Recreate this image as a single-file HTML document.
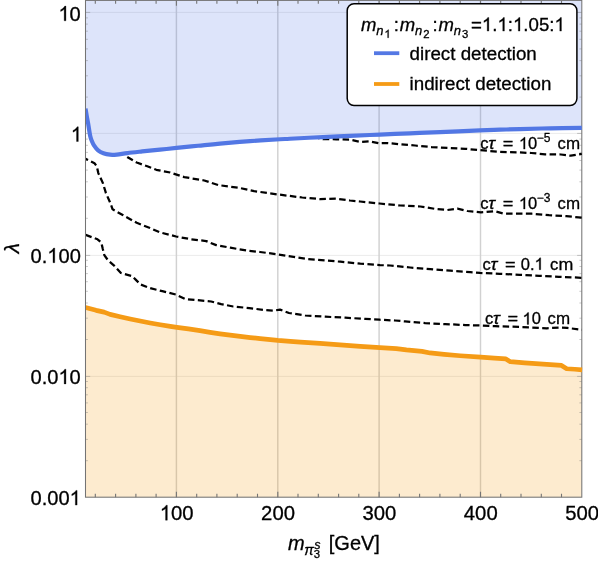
<!DOCTYPE html><html><head><meta charset="utf-8"><style>html,body{margin:0;padding:0;background:#fff;overflow:hidden}svg{display:block;will-change:transform}text{font-family:"Liberation Sans",sans-serif;fill:#000;stroke:#000;stroke-width:0.3px}</style></head><body>
<svg width="598" height="564" viewBox="0 0 598 564">
<rect width="598" height="564" fill="#fff"/>
<clipPath id="cp"><rect x="86.0" y="0" width="496.9" height="497.2"/></clipPath>
<line x1="85.5" x2="581.8" y1="12.4" y2="12.4" stroke="#ebebeb" stroke-width="1"/>
<line x1="85.5" x2="581.8" y1="133.4" y2="133.4" stroke="#ebebeb" stroke-width="1"/>
<line x1="85.5" x2="581.8" y1="255.4" y2="255.4" stroke="#ebebeb" stroke-width="1"/>
<line x1="85.5" x2="581.8" y1="376.4" y2="376.4" stroke="#ebebeb" stroke-width="1"/>
<line y1="0" y2="497.2" x1="176.4" x2="176.4" stroke="#d1d1d1" stroke-width="1.45"/>
<line y1="0" y2="497.2" x1="277.8" x2="277.8" stroke="#d1d1d1" stroke-width="1.45"/>
<line y1="0" y2="497.2" x1="379.1" x2="379.1" stroke="#d1d1d1" stroke-width="1.45"/>
<line y1="0" y2="497.2" x1="480.5" x2="480.5" stroke="#d1d1d1" stroke-width="1.45"/>
<path d="M85.50,108.70 C85.72,110.00 86.35,113.93 86.80,116.50 C87.25,119.07 87.63,120.83 88.20,124.10 C88.77,127.37 89.57,133.20 90.20,136.10 C90.83,139.00 91.37,139.93 92.00,141.50 C92.63,143.07 92.98,143.98 94.00,145.50 C95.02,147.02 96.53,149.27 98.10,150.60 C99.67,151.93 101.40,152.79 103.40,153.50 C105.40,154.21 107.87,154.65 110.10,154.85 C112.33,155.05 113.90,154.97 116.80,154.70 C119.70,154.42 123.27,153.72 127.50,153.20 C131.73,152.68 136.78,152.17 142.20,151.60 C147.62,151.03 154.28,150.38 160.00,149.80 C165.72,149.22 170.17,148.75 176.50,148.10 C182.83,147.45 190.75,146.63 198.00,145.90 C205.25,145.17 211.33,144.47 220.00,143.70 C228.67,142.93 240.00,142.02 250.00,141.30 C260.00,140.58 273.33,139.80 280.00,139.40 C286.67,139.00 282.83,139.27 290.00,138.90 C297.17,138.53 313.00,137.68 323.00,137.20 C333.00,136.72 340.50,136.42 350.00,136.00 C359.50,135.58 370.00,135.12 380.00,134.70 C390.00,134.28 400.00,133.92 410.00,133.50 C420.00,133.08 428.33,132.68 440.00,132.20 C451.67,131.72 470.00,130.99 480.00,130.60 C490.00,130.21 493.33,130.08 500.00,129.85 C506.67,129.62 511.67,129.42 520.00,129.20 C528.33,128.97 539.70,128.71 550.00,128.50 C560.30,128.29 576.50,128.04 581.80,127.95 L581.8,-5 L85.5,-5 Z" fill="#5478e4" fill-opacity="0.2"/>
<path d="M85.5,307.3 L96.1,310.1 L104.1,311.9 L110.1,314.1 L120.1,316.5 L130.2,318.7 L140.2,320.7 L150.2,322.7 L160.3,324.5 L170.3,326.1 L176.9,327.1 L188.4,328.7 L200.0,330.4 L210.1,332.1 L220.1,333.6 L230.1,334.9 L240.2,336.1 L250.2,337.3 L260.2,338.3 L270.3,339.3 L277.9,340.1 L290.3,341.1 L300.4,341.9 L320.1,343.1 L340.1,344.7 L360.2,346.1 L379.9,347.3 L396.3,348.3 L406.4,349.7 L422.0,351.1 L430.1,352.7 L444.1,354.1 L460.2,355.5 L480.6,356.9 L494.3,357.9 L505.9,358.7 L510.3,361.4 L524.7,362.6 L539.4,363.7 L554.1,364.6 L561.5,365.2 L566.7,368.5 L574.8,369.0 L582.1,369.6 L581.8,497.2 L85.5,497.2 Z" fill="#f59b16" fill-opacity="0.205"/>
<path d="M95.3,497.2 v-3.4 M95.3,0.4 v3.4 M115.6,497.2 v-3.4 M115.6,0.4 v3.4 M135.9,497.2 v-3.4 M135.9,0.4 v3.4 M156.1,497.2 v-3.4 M156.1,0.4 v3.4 M176.4,497.2 v-5.4 M176.4,0.4 v5.4 M196.7,497.2 v-3.4 M196.7,0.4 v3.4 M216.9,497.2 v-3.4 M216.9,0.4 v3.4 M237.2,497.2 v-3.4 M237.2,0.4 v3.4 M257.5,497.2 v-3.4 M257.5,0.4 v3.4 M277.8,497.2 v-5.4 M277.8,0.4 v5.4 M298.0,497.2 v-3.4 M298.0,0.4 v3.4 M318.3,497.2 v-3.4 M318.3,0.4 v3.4 M338.6,497.2 v-3.4 M338.6,0.4 v3.4 M358.8,497.2 v-3.4 M358.8,0.4 v3.4 M379.1,497.2 v-5.4 M379.1,0.4 v5.4 M399.4,497.2 v-3.4 M399.4,0.4 v3.4 M419.6,497.2 v-3.4 M419.6,0.4 v3.4 M439.9,497.2 v-3.4 M439.9,0.4 v3.4 M460.2,497.2 v-3.4 M460.2,0.4 v3.4 M480.5,497.2 v-5.4 M480.5,0.4 v5.4 M500.7,497.2 v-3.4 M500.7,0.4 v3.4 M521.0,497.2 v-3.4 M521.0,0.4 v3.4 M541.3,497.2 v-3.4 M541.3,0.4 v3.4 M561.5,497.2 v-3.4 M561.5,0.4 v3.4" stroke="#747474" stroke-width="1.1" fill="none"/>
<path d="M85.5,460.7 h2.4 M581.8,460.7 h-2.4 M85.5,439.4 h2.4 M581.8,439.4 h-2.4 M85.5,424.2 h2.4 M581.8,424.2 h-2.4 M85.5,412.5 h2.4 M581.8,412.5 h-2.4 M85.5,402.9 h2.4 M581.8,402.9 h-2.4 M85.5,394.8 h2.4 M581.8,394.8 h-2.4 M85.5,387.7 h2.4 M581.8,387.7 h-2.4 M85.5,381.5 h2.4 M581.8,381.5 h-2.4 M85.5,376.4 h4.7 M581.8,376.4 h-4.7 M85.5,339.5 h2.4 M581.8,339.5 h-2.4 M85.5,318.2 h2.4 M581.8,318.2 h-2.4 M85.5,303.0 h2.4 M581.8,303.0 h-2.4 M85.5,291.3 h2.4 M581.8,291.3 h-2.4 M85.5,281.7 h2.4 M581.8,281.7 h-2.4 M85.5,273.6 h2.4 M581.8,273.6 h-2.4 M85.5,266.5 h2.4 M581.8,266.5 h-2.4 M85.5,260.3 h2.4 M581.8,260.3 h-2.4 M85.5,255.4 h4.7 M581.8,255.4 h-4.7 M85.5,218.3 h2.4 M581.8,218.3 h-2.4 M85.5,197.0 h2.4 M581.8,197.0 h-2.4 M85.5,181.8 h2.4 M581.8,181.8 h-2.4 M85.5,170.1 h2.4 M581.8,170.1 h-2.4 M85.5,160.5 h2.4 M581.8,160.5 h-2.4 M85.5,152.4 h2.4 M581.8,152.4 h-2.4 M85.5,145.3 h2.4 M581.8,145.3 h-2.4 M85.5,139.1 h2.4 M581.8,139.1 h-2.4 M85.5,133.4 h4.7 M581.8,133.4 h-4.7 M85.5,97.1 h2.4 M581.8,97.1 h-2.4 M85.5,75.8 h2.4 M581.8,75.8 h-2.4 M85.5,60.6 h2.4 M581.8,60.6 h-2.4 M85.5,48.9 h2.4 M581.8,48.9 h-2.4 M85.5,39.3 h2.4 M581.8,39.3 h-2.4 M85.5,31.2 h2.4 M581.8,31.2 h-2.4 M85.5,24.1 h2.4 M581.8,24.1 h-2.4 M85.5,17.9 h2.4 M581.8,17.9 h-2.4 M85.5,12.4 h4.7 M581.8,12.4 h-4.7" stroke="#747474" stroke-width="0.4" fill="none"/>
<rect x="85.5" y="0.4" width="496.29999999999995" height="496.8" fill="none" stroke="#747474" stroke-width="1.05"/>
<g clip-path="url(#cp)">
<path d="M318.0,138.4 L323.1,139.5 L336.2,139.7 L350.2,140.1 L360.2,142.3 L369.3,141.7 L379.3,143.6 L386.3,143.4 L391.7,143.8 L400.0,144.7 L415.1,145.9 L431.8,147.5 L448.5,148.4 L465.3,149.2 L480.3,150.6 L499.7,152.2 L519.5,152.8 L531.3,153.4 L545.1,154.7 L560.9,154.9 L570.8,156.1 L581.8,154.3" transform="translate(0,-0.4)" fill="none" stroke="#000" stroke-width="2.25" stroke-dasharray="6.5 3.4" stroke-dashoffset="5.0" stroke-linejoin="round"/>
<path d="M124.5,155.0 L127.7,157.3 L132.0,159.8 L136.7,162.5 L147.3,166.3 L156.3,169.8 L164.0,171.3 L170.2,172.5 L184.2,177.1 L204.3,180.5 L218.3,185.1 L238.4,187.7 L254.1,191.1 L278.2,194.5 L302.2,197.5 L320.3,199.1 L336.4,198.7 L350.0,200.5 L360.1,201.5 L379.5,203.5 L400.2,205.5 L420.3,206.5 L436.3,209.1 L447.4,210.0 L457.4,208.6 L467.3,211.0 L480.9,212.3 L494.6,211.2 L503.2,213.5 L531.7,213.7 L549.0,215.2 L566.3,216.1 L582.4,217.8" transform="translate(0,0)" fill="none" stroke="#000" stroke-width="2.25" stroke-dasharray="6.5 3.4" stroke-dashoffset="6.5" stroke-linejoin="round"/>
<path d="M85.5,158.8 L94.5,163.3 L96.8,166.3 L98.3,173.1 L102.8,182.9 L105.8,192.7 L110.4,203.2 L112.6,209.3 L123.2,215.3 L136.7,222.8 L150.0,228.0 L160.0,232.4 L176.1,236.5 L190.1,239.1 L206.2,241.1 L216.2,245.1 L230.3,247.7 L246.3,250.5 L260.0,252.0 L278.1,254.4 L308.2,259.1 L340.3,261.7 L360.3,263.7 L380.0,265.1 L390.1,265.5 L410.1,267.5 L430.2,269.1 L450.3,270.7 L470.3,272.1 L480.0,272.9 L499.7,273.8 L519.5,274.8 L539.2,275.8 L558.9,276.8 L581.8,277.8" transform="translate(0,0)" fill="none" stroke="#000" stroke-width="2.25" stroke-dasharray="6.5 3.4" stroke-dashoffset="3.7" stroke-linejoin="round"/>
<path d="M85.5,234.8 L97.5,239.3 L101.3,242.3 L102.8,249.1 L104.3,255.1 L108.1,260.4 L114.1,265.6 L120.9,272.9 L132.2,276.2 L135.9,279.9 L140.4,284.4 L150.2,288.2 L162.3,291.2 L176.0,294.6 L185.1,299.0 L211.2,301.5 L221.2,304.1 L233.2,306.5 L249.3,308.1 L265.3,310.1 L273.4,310.7 L280.0,309.6 L289.0,313.0 L305.1,315.5 L325.2,316.7 L345.2,317.7 L365.3,318.9 L379.4,319.7 L395.0,320.5 L405.1,321.4 L425.1,323.1 L445.2,324.1 L465.3,325.1 L480.9,325.5 L495.0,326.2 L512.2,326.7 L529.4,327.4 L546.7,328.3 L558.7,327.6 L567.3,327.9 L581.8,329.8" transform="translate(0,0)" fill="none" stroke="#000" stroke-width="2.25" stroke-dasharray="6.5 3.4" stroke-dashoffset="0" stroke-linejoin="round"/>
<path d="M85.50,108.70 C85.72,110.00 86.35,113.93 86.80,116.50 C87.25,119.07 87.63,120.83 88.20,124.10 C88.77,127.37 89.57,133.20 90.20,136.10 C90.83,139.00 91.37,139.93 92.00,141.50 C92.63,143.07 92.98,143.98 94.00,145.50 C95.02,147.02 96.53,149.27 98.10,150.60 C99.67,151.93 101.40,152.79 103.40,153.50 C105.40,154.21 107.87,154.65 110.10,154.85 C112.33,155.05 113.90,154.97 116.80,154.70 C119.70,154.42 123.27,153.72 127.50,153.20 C131.73,152.68 136.78,152.17 142.20,151.60 C147.62,151.03 154.28,150.38 160.00,149.80 C165.72,149.22 170.17,148.75 176.50,148.10 C182.83,147.45 190.75,146.63 198.00,145.90 C205.25,145.17 211.33,144.47 220.00,143.70 C228.67,142.93 240.00,142.02 250.00,141.30 C260.00,140.58 273.33,139.80 280.00,139.40 C286.67,139.00 282.83,139.27 290.00,138.90 C297.17,138.53 313.00,137.68 323.00,137.20 C333.00,136.72 340.50,136.42 350.00,136.00 C359.50,135.58 370.00,135.12 380.00,134.70 C390.00,134.28 400.00,133.92 410.00,133.50 C420.00,133.08 428.33,132.68 440.00,132.20 C451.67,131.72 470.00,130.99 480.00,130.60 C490.00,130.21 493.33,130.08 500.00,129.85 C506.67,129.62 511.67,129.42 520.00,129.20 C528.33,128.97 539.70,128.71 550.00,128.50 C560.30,128.29 576.50,128.04 581.80,127.95" fill="none" stroke="#5277e4" stroke-width="4.2" stroke-linejoin="round" transform="translate(0,-0.15)"/>
<path d="M85.5,307.3 L96.1,310.1 L104.1,311.9 L110.1,314.1 L120.1,316.5 L130.2,318.7 L140.2,320.7 L150.2,322.7 L160.3,324.5 L170.3,326.1 L176.9,327.1 L188.4,328.7 L200.0,330.4 L210.1,332.1 L220.1,333.6 L230.1,334.9 L240.2,336.1 L250.2,337.3 L260.2,338.3 L270.3,339.3 L277.9,340.1 L290.3,341.1 L300.4,341.9 L320.1,343.1 L340.1,344.7 L360.2,346.1 L379.9,347.3 L396.3,348.3 L406.4,349.7 L422.0,351.1 L430.1,352.7 L444.1,354.1 L460.2,355.5 L480.6,356.9 L494.3,357.9 L505.9,358.7 L510.3,361.4 L524.7,362.6 L539.4,363.7 L554.1,364.6 L561.5,365.2 L566.7,368.5 L574.8,369.0 L582.1,369.6" fill="none" stroke="#f59b16" stroke-width="4.7" stroke-linejoin="round" transform="translate(0,0.25)"/>
</g>
<path transform="translate(58.45,20.80) scale(20.100,-20.502)" d="M0.3726,0 H0.2847 V0.5601 Q0.2529,0.5298 0.2014,0.4995 T0.1089,0.4541 V0.5391 Q0.1821,0.5735 0.2368,0.6226 T0.3145,0.7173 H0.3726 Z" fill="#000" stroke="#000" stroke-width="0.3" vector-effect="non-scaling-stroke"/>
<text transform="translate(69.62,20.80) scale(1,1.02)" font-size="20.1">0</text>
<path transform="translate(70.82,141.50) scale(20.100,-20.502)" d="M0.3726,0 H0.2847 V0.5601 Q0.2529,0.5298 0.2014,0.4995 T0.1089,0.4541 V0.5391 Q0.1821,0.5735 0.2368,0.6226 T0.3145,0.7173 H0.3726 Z" fill="#000" stroke="#000" stroke-width="0.3" vector-effect="non-scaling-stroke"/>
<text transform="translate(30.51,262.70) scale(1,1.02)" font-size="20.1">0.</text>
<path transform="translate(47.27,262.70) scale(20.100,-20.502)" d="M0.3726,0 H0.2847 V0.5601 Q0.2529,0.5298 0.2014,0.4995 T0.1089,0.4541 V0.5391 Q0.1821,0.5735 0.2368,0.6226 T0.3145,0.7173 H0.3726 Z" fill="#000" stroke="#000" stroke-width="0.3" vector-effect="non-scaling-stroke"/>
<text transform="translate(58.45,262.70) scale(1,1.02)" font-size="20.1">00</text>
<text transform="translate(30.51,383.90) scale(1,1.02)" font-size="20.1">0.0</text>
<path transform="translate(58.45,383.90) scale(20.100,-20.502)" d="M0.3726,0 H0.2847 V0.5601 Q0.2529,0.5298 0.2014,0.4995 T0.1089,0.4541 V0.5391 Q0.1821,0.5735 0.2368,0.6226 T0.3145,0.7173 H0.3726 Z" fill="#000" stroke="#000" stroke-width="0.3" vector-effect="non-scaling-stroke"/>
<text transform="translate(69.62,383.90) scale(1,1.02)" font-size="20.1">0</text>
<text transform="translate(30.51,505.10) scale(1,1.02)" font-size="20.1">0.00</text>
<path transform="translate(69.62,505.10) scale(20.100,-20.502)" d="M0.3726,0 H0.2847 V0.5601 Q0.2529,0.5298 0.2014,0.4995 T0.1089,0.4541 V0.5391 Q0.1821,0.5735 0.2368,0.6226 T0.3145,0.7173 H0.3726 Z" fill="#000" stroke="#000" stroke-width="0.3" vector-effect="non-scaling-stroke"/>
<path transform="translate(159.77,520.20) scale(20.300,-20.909)" d="M0.3726,0 H0.2847 V0.5601 Q0.2529,0.5298 0.2014,0.4995 T0.1089,0.4541 V0.5391 Q0.1821,0.5735 0.2368,0.6226 T0.3145,0.7173 H0.3726 Z" fill="#000" stroke="#000" stroke-width="0.3" vector-effect="non-scaling-stroke"/>
<text transform="translate(171.06,520.20) scale(1,1.03)" font-size="20.3">00</text>
<text transform="translate(261.12,520.20) scale(1,1.03)" font-size="20.3">200</text>
<text transform="translate(362.47,520.20) scale(1,1.03)" font-size="20.3">300</text>
<text transform="translate(463.82,520.20) scale(1,1.03)" font-size="20.3">400</text>
<text transform="translate(565.17,520.20) scale(1,1.03)" font-size="20.3">500</text>
<text transform="translate(18.5,248.15) rotate(-90)" font-size="20.5" text-anchor="middle" font-style="italic">λ</text>
<text x="288.00" y="549.60" font-size="20" font-style="italic">m</text>
<text x="304.30" y="555.00" font-size="14.2" font-style="italic" stroke-width="0.1">π</text>
<text x="314.30" y="548.60" font-size="12.5" font-style="italic" stroke-width="0.15">s</text>
<text x="313.70" y="557.70" font-size="11.3" stroke-width="0.15">3</text>
<text x="328.80" y="549.60" font-size="20">[GeV]</text>
<text x="480.20" y="149.10" font-size="16.5">c</text>
<text transform="translate(488.20,149.10) scale(1.1,1)" font-size="16.5" font-style="italic">τ</text>
<text transform="translate(502.70,149.10) scale(1.1,1)" font-size="16.5">=</text>
<path transform="translate(518.90,149.10) scale(16.500,-16.500)" d="M0.3726,0 H0.2847 V0.5601 Q0.2529,0.5298 0.2014,0.4995 T0.1089,0.4541 V0.5391 Q0.1821,0.5735 0.2368,0.6226 T0.3145,0.7173 H0.3726 Z" fill="#000" stroke="#000" stroke-width="0.3" vector-effect="non-scaling-stroke"/>
<text x="528.07" y="149.10" font-size="16.5">0</text>
<text x="536.80" y="141.90" font-size="12">−5</text>
<text x="557.60" y="149.10" font-size="16.5">c</text>
<text transform="translate(566.10,149.10) scale(1.03,1)" font-size="16.5">m</text>
<text x="480.20" y="209.00" font-size="16.5">c</text>
<text transform="translate(488.20,209.00) scale(1.1,1)" font-size="16.5" font-style="italic">τ</text>
<text transform="translate(502.70,209.00) scale(1.1,1)" font-size="16.5">=</text>
<path transform="translate(518.90,209.00) scale(16.500,-16.500)" d="M0.3726,0 H0.2847 V0.5601 Q0.2529,0.5298 0.2014,0.4995 T0.1089,0.4541 V0.5391 Q0.1821,0.5735 0.2368,0.6226 T0.3145,0.7173 H0.3726 Z" fill="#000" stroke="#000" stroke-width="0.3" vector-effect="non-scaling-stroke"/>
<text x="528.07" y="209.00" font-size="16.5">0</text>
<text x="536.80" y="201.80" font-size="12">−3</text>
<text x="557.60" y="209.00" font-size="16.5">c</text>
<text transform="translate(566.10,209.00) scale(1.03,1)" font-size="16.5">m</text>
<text x="482.40" y="269.70" font-size="16.5">c</text>
<text transform="translate(490.40,269.70) scale(1.1,1)" font-size="16.5" font-style="italic">τ</text>
<text transform="translate(504.90,269.70) scale(1.1,1)" font-size="16.5">=</text>
<text x="520.80" y="269.70" font-size="16.5">0.</text>
<path transform="translate(534.56,269.70) scale(16.500,-16.500)" d="M0.3726,0 H0.2847 V0.5601 Q0.2529,0.5298 0.2014,0.4995 T0.1089,0.4541 V0.5391 Q0.1821,0.5735 0.2368,0.6226 T0.3145,0.7173 H0.3726 Z" fill="#000" stroke="#000" stroke-width="0.3" vector-effect="non-scaling-stroke"/>
<text x="550.00" y="269.70" font-size="16.5">c</text>
<text transform="translate(558.50,269.70) scale(1.08,1)" font-size="16.5">m</text>
<text x="484.90" y="324.40" font-size="16.5">c</text>
<text transform="translate(492.90,324.40) scale(1.1,1)" font-size="16.5" font-style="italic">τ</text>
<text transform="translate(507.40,324.40) scale(1.1,1)" font-size="16.5">=</text>
<path transform="translate(522.50,324.40) scale(16.500,-16.500)" d="M0.3726,0 H0.2847 V0.5601 Q0.2529,0.5298 0.2014,0.4995 T0.1089,0.4541 V0.5391 Q0.1821,0.5735 0.2368,0.6226 T0.3145,0.7173 H0.3726 Z" fill="#000" stroke="#000" stroke-width="0.3" vector-effect="non-scaling-stroke"/>
<text x="531.67" y="324.40" font-size="16.5">0</text>
<text x="547.40" y="324.40" font-size="16.5">c</text>
<text transform="translate(555.90,324.40) scale(1.03,1)" font-size="16.5">m</text>
<rect x="347.2" y="3.7" width="229.7" height="101.7" rx="6.8" ry="6.8" fill="#fff" stroke="#000" stroke-width="1.5"/>
<line x1="374.0" x2="399.3" y1="53.2" y2="53.2" stroke="#5478e4" stroke-width="3.8"/>
<line x1="374.0" x2="399.3" y1="84.0" y2="84.0" stroke="#f59b16" stroke-width="3.8"/>
<text x="409.60" y="59.60" font-size="18.75">direct detection</text>
<text x="409.60" y="89.80" font-size="18.75">indirect detection</text>
<text x="360.9" y="31.1" font-size="18.5" font-style="italic">m</text>
<text x="376.29999999999995" y="34.5" font-size="13" font-style="italic">n</text>
<path transform="translate(384.40,37.80) scale(11.300,-11.300)" d="M0.3726,0 H0.2847 V0.5601 Q0.2529,0.5298 0.2014,0.4995 T0.1089,0.4541 V0.5391 Q0.1821,0.5735 0.2368,0.6226 T0.3145,0.7173 H0.3726 Z" fill="#000" stroke="#000" stroke-width="0.3" vector-effect="non-scaling-stroke"/>
<text x="393.7" y="31.1" font-size="18.5">:</text>
<text x="399.7" y="31.1" font-size="18.5" font-style="italic">m</text>
<text x="415.09999999999997" y="34.5" font-size="13" font-style="italic">n</text>
<text x="423.20" y="37.80" font-size="11.3">2</text>
<text x="432.5" y="31.1" font-size="18.5">:</text>
<text x="438.4" y="31.1" font-size="18.5" font-style="italic">m</text>
<text x="453.79999999999995" y="34.5" font-size="13" font-style="italic">n</text>
<text x="461.90" y="37.80" font-size="11.3">3</text>
<text transform="translate(471.00,31.10) scale(1,1.02)" font-size="18.65">=</text>
<path transform="translate(481.89,31.10) scale(18.650,-19.023)" d="M0.3726,0 H0.2847 V0.5601 Q0.2529,0.5298 0.2014,0.4995 T0.1089,0.4541 V0.5391 Q0.1821,0.5735 0.2368,0.6226 T0.3145,0.7173 H0.3726 Z" fill="#000" stroke="#000" stroke-width="0.3" vector-effect="non-scaling-stroke"/>
<text transform="translate(492.26,31.10) scale(1,1.02)" font-size="18.65">.</text>
<path transform="translate(497.45,31.10) scale(18.650,-19.023)" d="M0.3726,0 H0.2847 V0.5601 Q0.2529,0.5298 0.2014,0.4995 T0.1089,0.4541 V0.5391 Q0.1821,0.5735 0.2368,0.6226 T0.3145,0.7173 H0.3726 Z" fill="#000" stroke="#000" stroke-width="0.3" vector-effect="non-scaling-stroke"/>
<text transform="translate(507.82,31.10) scale(1,1.02)" font-size="18.65">:</text>
<path transform="translate(513.00,31.10) scale(18.650,-19.023)" d="M0.3726,0 H0.2847 V0.5601 Q0.2529,0.5298 0.2014,0.4995 T0.1089,0.4541 V0.5391 Q0.1821,0.5735 0.2368,0.6226 T0.3145,0.7173 H0.3726 Z" fill="#000" stroke="#000" stroke-width="0.3" vector-effect="non-scaling-stroke"/>
<text transform="translate(523.37,31.10) scale(1,1.02)" font-size="18.65">.05:</text>
<path transform="translate(554.48,31.10) scale(18.650,-19.023)" d="M0.3726,0 H0.2847 V0.5601 Q0.2529,0.5298 0.2014,0.4995 T0.1089,0.4541 V0.5391 Q0.1821,0.5735 0.2368,0.6226 T0.3145,0.7173 H0.3726 Z" fill="#000" stroke="#000" stroke-width="0.3" vector-effect="non-scaling-stroke"/>
</svg></body></html>
